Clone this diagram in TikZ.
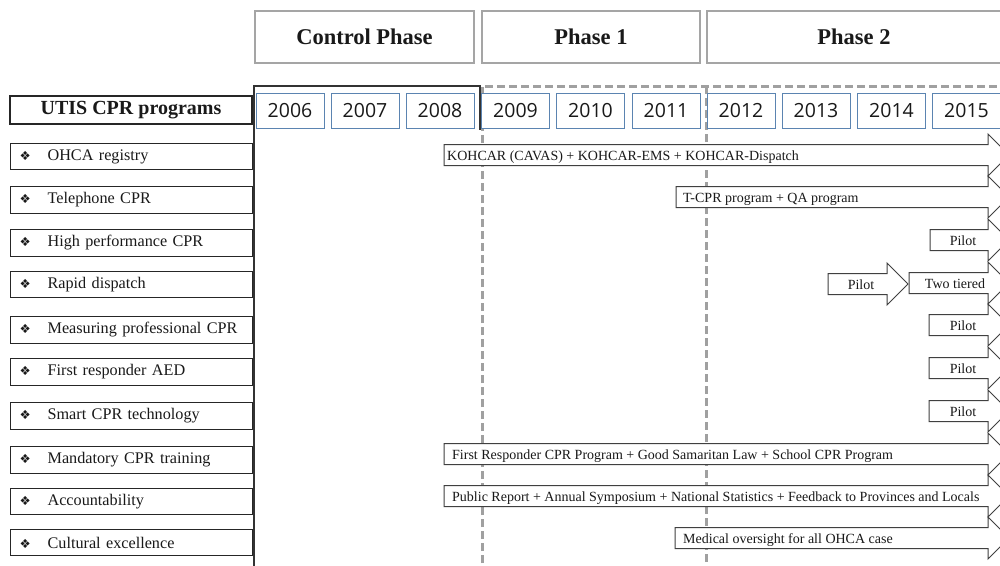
\documentclass[tikz,border=0pt]{standalone}
\usepackage{fontspec}
\setmainfont{Liberation Serif}
\newfontfamily\yearfont{Open Sans}
\newfontfamily\symfont{DejaVu Sans}
\definecolor{phasegray}{RGB}{165,165,165}
\definecolor{yearblue}{RGB}{91,132,177}
\definecolor{dashgray}{RGB}{160,160,160}
\definecolor{arrowgray}{RGB}{64,64,64}
\definecolor{txt}{RGB}{25,25,25}
\newcommand{\blt}{\makebox[28pt][l]{\symfont\fontsize{12.5}{12.5}\selectfont ❖}}
% #1 left x, #2 head back x, #3 centre y
\newcommand{\blockarrow}[3]{%
  \draw[arrowline] (#1,#3-10.5) -- (#2,#3-10.5) -- (#2,#3-21) -- (#2+21,#3)
    -- (#2,#3+21) -- (#2,#3+10.5) -- (#1,#3+10.5) -- cycle;}
\begin{document}
\begin{tikzpicture}[x=1pt,y=-1pt,
  phasebox/.style={draw=phasegray, line width=1.1pt, fill=white, minimum height=52pt,
    inner sep=0pt, text=txt, font=\fontsize{22.5}{26}\selectfont\bfseries},
  yearbox/.style={draw=yearblue, line width=1pt, fill=white, minimum width=68pt,
    minimum height=35pt, inner sep=0pt, text=txt, font=\yearfont\fontsize{19.5}{22}\selectfont},
  progbox/.style={draw=black!85, line width=1.2pt, fill=white, minimum width=242pt,
    minimum height=26.5pt, text width=224pt, inner xsep=8pt, inner ysep=0pt,
    align=left, text=txt, font=\fontsize{16.2}{18}\selectfont},
  titlebox/.style={draw=black!85, line width=1.4pt, fill=white, minimum width=242pt,
    minimum height=28pt, inner sep=0pt, text=txt, font=\fontsize{20}{22}\selectfont\bfseries},
  arrowline/.style={draw=arrowgray, line width=1pt, fill=white},
  atext/.style={inner sep=0pt, text=txt, font=\fontsize{14}{16}\selectfont},
  dashline/.style={draw=dashgray, line width=3pt, dash pattern=on 8pt off 4pt},
  frameline/.style={draw=black!80, line width=1.2pt}
]
\useasboundingbox (0,0) rectangle (1000,565);
\clip (0,0) rectangle (1000,565);
\fill[white] (0,0) rectangle (1000,565);

% frames
\draw[frameline] (254,575) -- (254,86) -- (480,86) -- (480,130);
\draw[dashline] (482,575) -- (482,86) -- (1010,86);
\draw[dashline] (706,86) -- (706,575);

% phase headers
\node[phasebox, minimum width=219pt] (ctrl) at (364.5,37) {Control Phase};
\node[phasebox, minimum width=218pt] (ph1) at (591,37) {Phase 1};
\node[phasebox, minimum width=294pt] (ph2) at (854,37) {Phase 2};

% title and years
\node[titlebox] (title) at (131,110) {UTIS CPR programs};
\node[yearbox] (y2006) at (290,110.5) {2006};
\node[yearbox] (y2007) at (365,110.5) {2007};
\node[yearbox] (y2008) at (440,110.5) {2008};
\node[yearbox] (y2009) at (515.5,110.5) {2009};
\node[yearbox] (y2010) at (590.5,110.5) {2010};
\node[yearbox] (y2011) at (666,110.5) {2011};
\node[yearbox] (y2012) at (741,110.5) {2012};
\node[yearbox] (y2013) at (816,110.5) {2013};
\node[yearbox] (y2014) at (891.5,110.5) {2014};
\node[yearbox] (y2015) at (966.5,110.5) {2015};

% programs
\node[progbox, anchor=west] (p1) at (10,156.5) {\blt OHCA registry};
\node[progbox, anchor=west] (p2) at (10,200) {\blt Telephone CPR};
\node[progbox, anchor=west] (p3) at (10,243) {\blt High performance CPR};
\node[progbox, anchor=west] (p4) at (10,284.5) {\blt Rapid dispatch};
\node[progbox, anchor=west] (p5) at (10,330) {\blt Measuring professional CPR};
\node[progbox, anchor=west] (p6) at (10,372) {\blt First responder AED};
\node[progbox, anchor=west] (p7) at (10,416) {\blt Smart CPR technology};
\node[progbox, anchor=west] (p8) at (10,460) {\blt Mandatory CPR training};
\node[progbox, anchor=west] (p9) at (10,501.5) {\blt Accountability};
\node[progbox, anchor=west] (p10) at (10,542.5) {\blt Cultural excellence};

% block arrows
\blockarrow{444}{988}{155}
\node[atext, anchor=base west] (a1) at (447,160) {KOHCAR (CAVAS) + KOHCAR-EMS + KOHCAR-Dispatch};
\blockarrow{676}{988}{197}
\node[atext, anchor=base west] (a2) at (683,202) {T-CPR program + QA program};
\blockarrow{930}{988}{240}
\node[atext, anchor=base] (a3) at (963,245) {Pilot};
\blockarrow{828}{887}{284}
\node[atext, anchor=base] (a4a) at (861,289) {Pilot};
\blockarrow{909}{988}{283}
\node[atext, anchor=base] (a4b) at (955,288) {Two tiered};
\blockarrow{929}{988}{325}
\node[atext, anchor=base] (a5) at (963,330) {Pilot};
\blockarrow{929}{988}{368}
\node[atext, anchor=base] (a6) at (963,373) {Pilot};
\blockarrow{929}{988}{411}
\node[atext, anchor=base] (a7) at (963,416) {Pilot};
\blockarrow{444}{988}{454}
\node[atext, anchor=base west] (a8) at (452,459) {First Responder CPR Program + Good Samaritan Law + School CPR Program};
\blockarrow{444}{988}{496}
\node[atext, anchor=base west] (a9) at (452,501) {Public Report + Annual Symposium + National Statistics + Feedback to Provinces and Locals};
\blockarrow{675}{988}{538}
\node[atext, anchor=base west] (a10) at (683,543) {Medical oversight for all OHCA case};
\end{tikzpicture}
\end{document}
